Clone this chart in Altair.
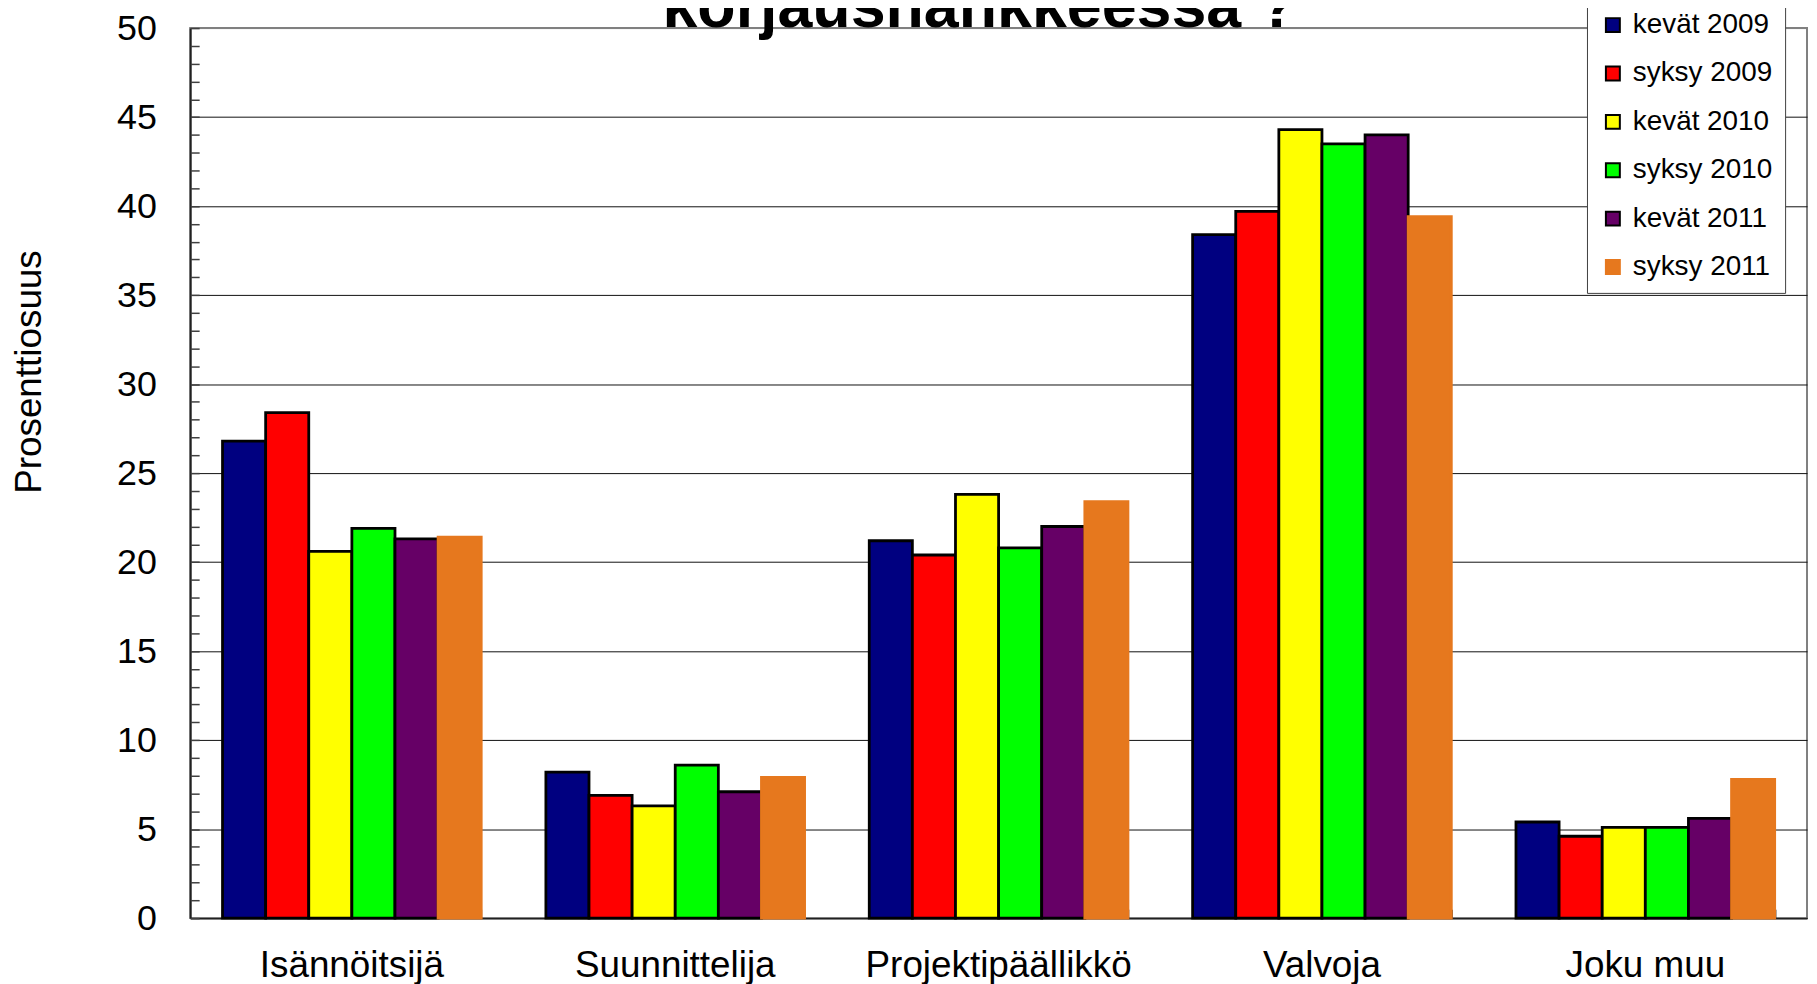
import altair as alt
import pandas as pd

F = "Liberation Sans"

title_text = ["korjaushankkeessa ?"]
categories = ["Isännöitsijä", "Suunnittelija", "Projektipäällikkö", "Valvoja", "Joku muu"]
series = ["kevät 2009", "syksy 2009", "kevät 2010", "syksy 2010", "kevät 2011", "syksy 2011"]
fill_colors = ["#000080", "#FF0000", "#FFFF00", "#00FF00", "#660066", "#E6781E"]
stroke_colors = ["#000000", "#000000", "#000000", "#000000", "#000000", "#E6781E"]

kevat_2009 = [26.8, 8.2, 21.2, 38.4, 5.4]
syksy_2009 = [28.4, 6.9, 20.4, 39.7, 4.6]
kevat_2010 = [20.6, 6.3, 23.8, 44.3, 5.1]
syksy_2010 = [21.9, 8.6, 20.8, 43.5, 5.1]
kevat_2011 = [21.3, 7.1, 22.0, 44.0, 5.6]
syksy_2011 = [21.4, 7.9, 23.4, 39.4, 7.8]

y_ticks = [0, 5, 10, 15, 20, 25, 30, 35, 40, 45, 50]
y_minor = list(range(0, 51))

series_values = [kevat_2009, syksy_2009, kevat_2010, syksy_2010, kevat_2011, syksy_2011]
rows = []
for s, vals in zip(series, series_values):
    for c, v in zip(categories, vals):
        rows.append({"category": c, "series": s, "value": v})
df = pd.DataFrame(rows)

W, H = 1624, 894

legend = alt.Legend(
    title=None, orient="none", legendX=1403, legendY=-29,
    labelFontSize=28, labelFont=F, labelColor="black", labelLimit=400,
    symbolType="square", symbolSize=196, symbolStrokeWidth=2,
    labelOffset=6, rowPadding=20.6, padding=12,
    fillColor="white", strokeColor="#404040",
)

base = alt.Chart(df)

bars = base.mark_bar(strokeWidth=2.8).encode(
    x=alt.X("category:N", sort=categories,
            scale=alt.Scale(paddingInner=0.2, paddingOuter=0.1),
            axis=alt.Axis(title=None, labelFontSize=37, labelFont=F, labelColor="black",
                          labelPadding=59, labelBaseline="alphabetic", labelAngle=0,
                          labelLimit=1000,
                          ticks=False, domainColor="#202020", domainWidth=2, grid=False)),
    xOffset=alt.XOffset("series:N", sort=series,
                        scale=alt.Scale(paddingInner=0, paddingOuter=0)),
    y=alt.Y("value:Q", scale=alt.Scale(domain=[0, 50], nice=False),
            axis=alt.Axis(values=y_ticks, title="Prosenttiosuus", titleFont=F, titleFontSize=37,
                          titleFontWeight="normal", titleColor="black", titleAngle=270,
                          titleAlign="center", titleBaseline="middle", titleX=-161, titleY=345,
                          labelFont=F, labelFontSize=36, labelColor="black", labelPadding=34,
                          ticks=False, domainColor="#202020", domainWidth=2,
                          grid=True, gridWidth=1,
                          gridColor={"condition": {"test": "datum.value >= 50", "value": "#808080"},
                                     "value": "#101010"})),
    fill=alt.Fill("series:N", sort=series,
                  scale=alt.Scale(domain=series, range=fill_colors), legend=legend),
    stroke=alt.Stroke("series:N", sort=series,
                      scale=alt.Scale(domain=series, range=stroke_colors), legend=legend),
)

minor = base.mark_bar(opacity=0).encode(
    x=alt.X("category:N", sort=categories,
            axis=alt.Axis(orient="top", offset=-H, title=None, labels=False, domain=False,
                          ticks=True, tickBand="extent", tickSize=9, tickColor="#303030",
                          tickWidth=1.5, grid=False)),
    xOffset=alt.XOffset("series:N", sort=series),
    y=alt.Y("value:Q",
            axis=alt.Axis(orient="right", offset=-W, values=y_minor, title=None, labels=False,
                          domain=False, grid=False, ticks=True, tickSize=9,
                          tickColor="#404040", tickWidth=1.5)),
)

title = alt.Chart(pd.DataFrame({"t": title_text})).mark_text(
    font=F, fontSize=63, fontWeight="bold", color="black",
    align="center", baseline="alphabetic",
).encode(text="t:N", x=alt.value(793), y=alt.value(-1))

chart = alt.layer(bars, minor, title).resolve_axis(x="independent", y="independent").properties(
    width=W, height=H,
    autosize=alt.AutoSizeParams(type="none"),
    padding={"left": 183, "top": 18, "right": 2, "bottom": 64},
    background="white",
).configure_view(stroke="#808080", strokeWidth=2)

chart.save("out.html", embed_options={"renderer": "svg", "actions": False})
